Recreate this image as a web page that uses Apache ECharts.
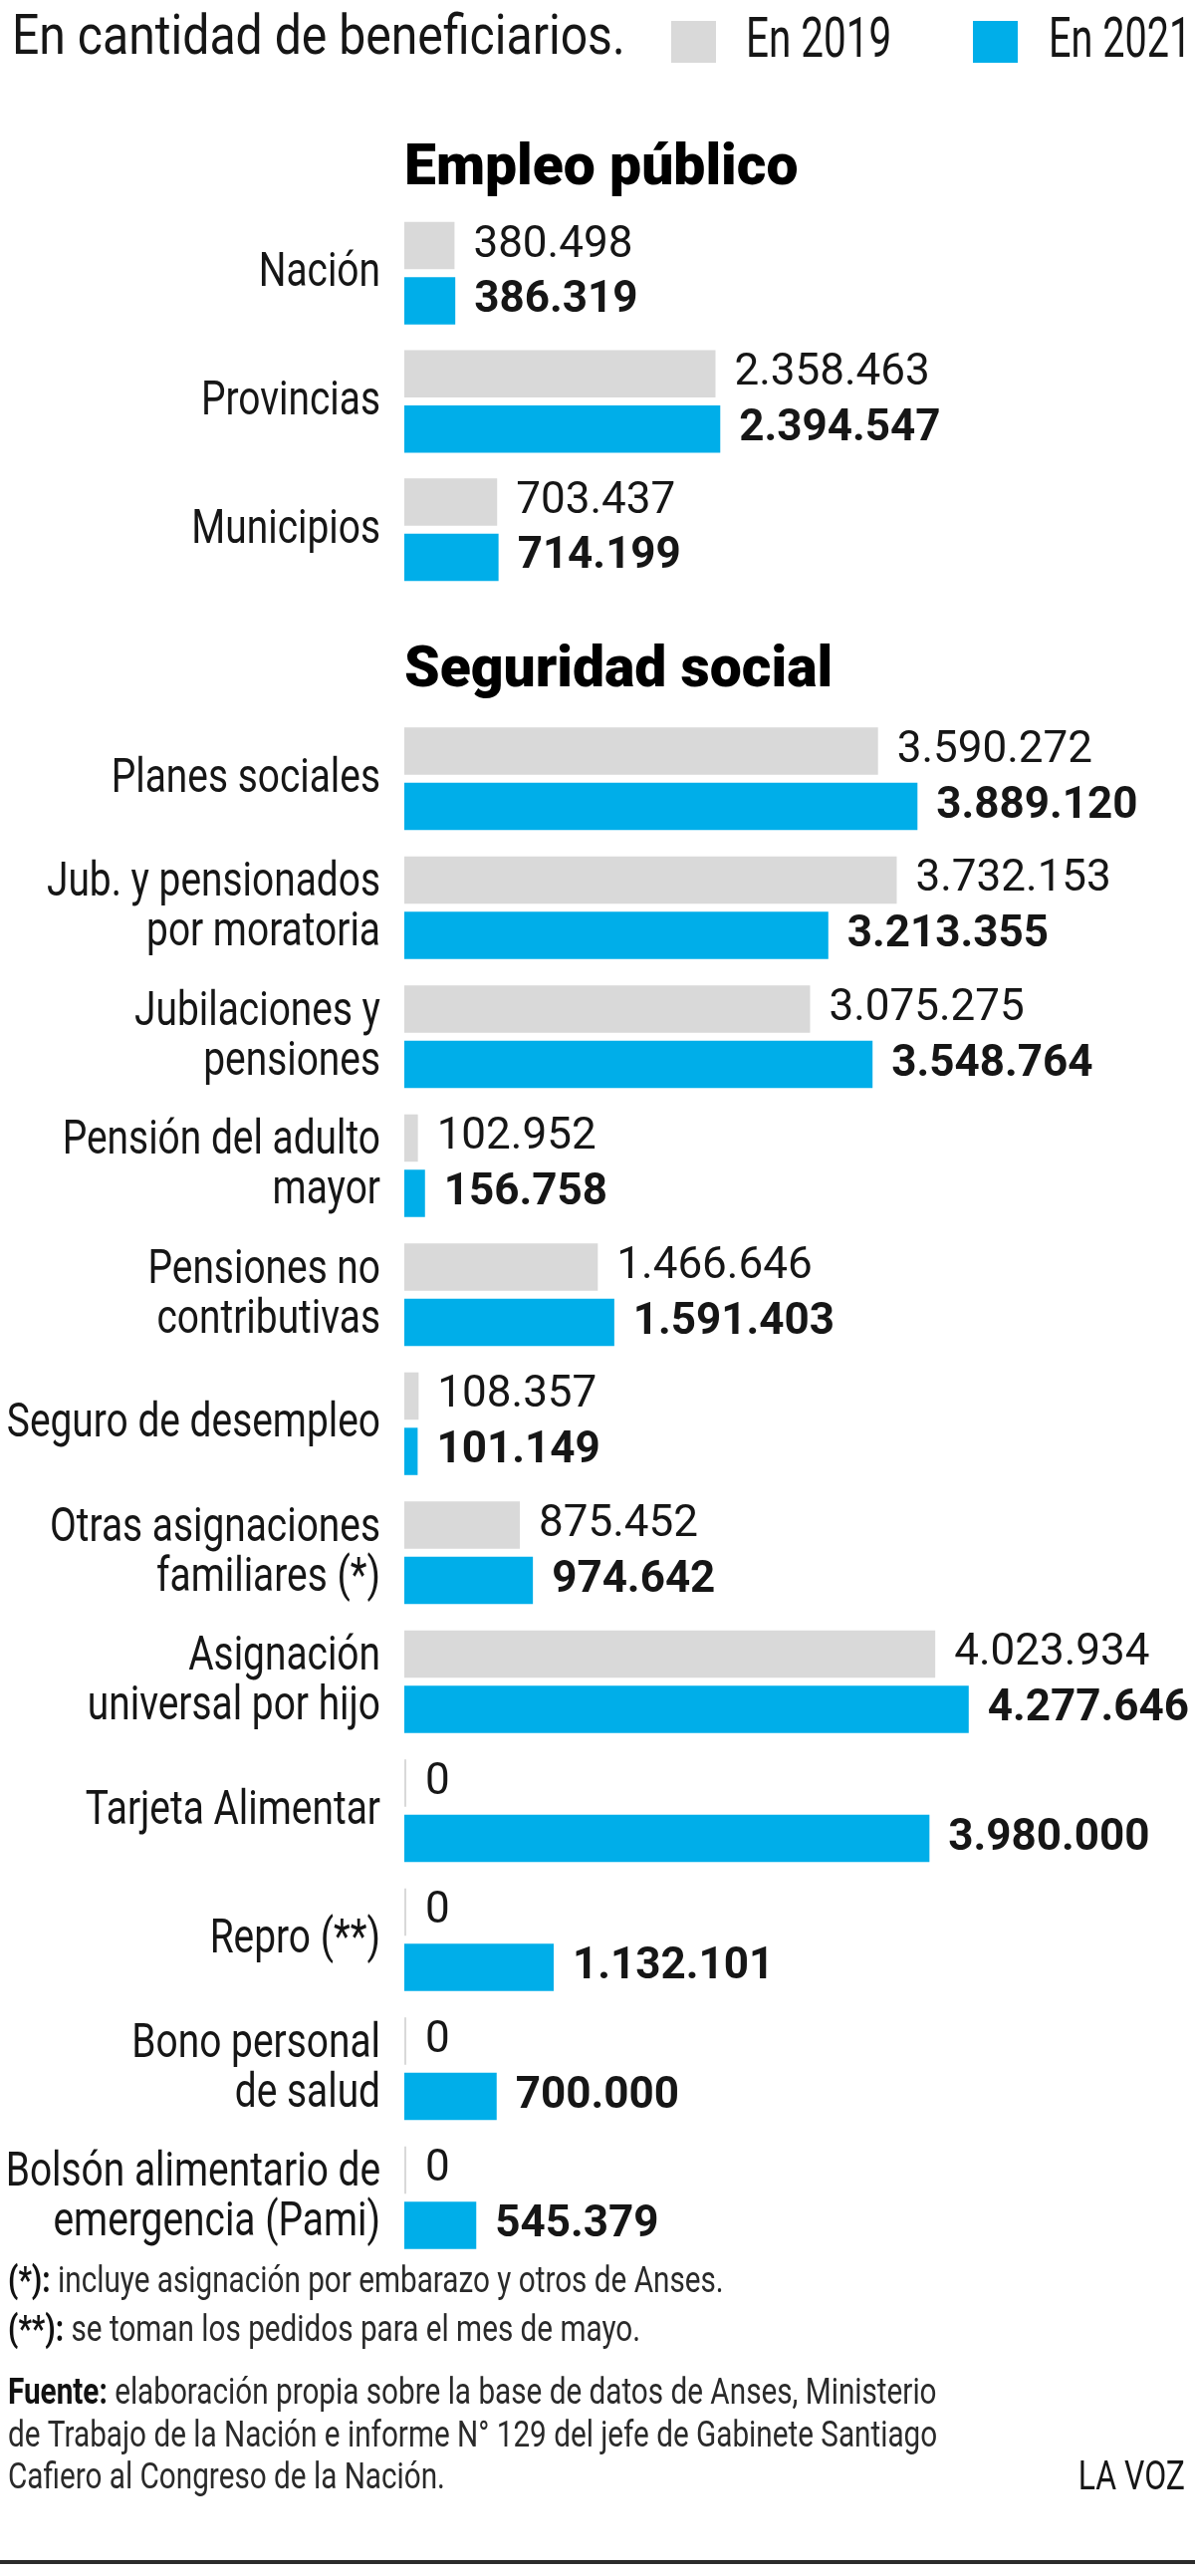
<!DOCTYPE html>
<html>
<head>
<meta charset="utf-8">
<script src="https://cdn.jsdelivr.net/npm/echarts@6/dist/echarts.min.js"></script>
<style>
html,body{margin:0;padding:0;background:#fff;}
#chart{width:1200px;height:2586px;}
</style>
</head>
<body>
<div id="chart"></div>
<script>
// ---- Data ----
const categoriesEmpleo = ['Nación', 'Provincias', 'Municipios'];
const empleo2019 = [380498, 2358463, 703437];
const empleo2021 = [386319, 2394547, 714199];

const categoriesSocial = [
  'Planes sociales',
  'Jub. y pensionados\npor moratoria',
  'Jubilaciones y\npensiones',
  'Pensión del adulto\nmayor',
  'Pensiones no\ncontributivas',
  'Seguro de desempleo',
  'Otras asignaciones\nfamiliares (*)',
  'Asignación\nuniversal por hijo',
  'Tarjeta Alimentar',
  'Repro (**)',
  'Bono personal\nde salud',
  'Bolsón alimentario de\nemergencia (Pami)'
];
const social2019 = [3590272, 3732153, 3075275, 102952, 1466646, 108357, 875452, 4023934, 0, 0, 0, 0];
const social2021 = [3889120, 3213355, 3548764, 156758, 1591403, 101149, 974642, 4277646, 3980000, 1132101, 700000, 545379];

const seriesNames = ['En 2019', 'En 2021'];
const sectionTitles = ['Empleo público', 'Seguridad social'];
const mainTitle = 'En cantidad de beneficiarios.';
const notes = [
  ['(*):', ' incluye asignación por embarazo y otros de Anses.'],
  ['(**):', ' se toman los pedidos para el mes de mayo.'],
  ['Fuente:', ' elaboración propia sobre la base de datos de Anses, Ministerio'],
  ['', 'de Trabajo de la Nación e informe N° 129 del jefe de Gabinete Santiago'],
  ['', 'Cafiero al Congreso de la Nación.']
];
const brand = 'LA VOZ';

// ---- Styles ----
const GRAY = '#d9d9d9';
const BLUE = '#00aee9';
const FONT = 'Roboto, "Liberation Sans", sans-serif';
const TXT = '#161616';

function fmt(v) {
  return String(v).replace(/\B(?=(\d{3})+(?!\d))/g, '.');
}

const chart = echarts.init(document.getElementById('chart'), null, {renderer: 'canvas'});

const gridLeft = 406;
const gridWidth = 662.5;

function yAxisFor(idx, cats) {
  return {
    type: 'category', gridIndex: idx, data: cats, inverse: true,
    axisLine: {show: false}, axisTick: {show: false}, splitLine: {show: false},
    axisLabel: {show: false}
  };
}
function xAxisFor(idx) {
  return {
    type: 'value', gridIndex: idx, min: 0, max: 5000000,
    show: false, splitLine: {show: false}
  };
}
function barSeries(name, idx, data, bold) {
  return {
    name: name, type: 'bar', xAxisIndex: idx, yAxisIndex: idx, data: data,
    barWidth: 47.5, barGap: '17%',
    barMinHeight: bold ? 0 : 2,
    itemStyle: {color: bold ? BLUE : GRAY},
    label: {
      show: true, position: 'right', distance: 19,
      fontFamily: FONT, fontSize: 44, color: TXT,
      fontWeight: bold ? 'bold' : 'normal',
      formatter: p => fmt(p.value)
    },
    emphasis: {disabled: true},
    animation: false
  };
}

const option = {
  backgroundColor: '#ffffff',
  animation: false,
  grid: [
    {left: gridLeft, width: gridWidth, top: 210, height: 386, outerBoundsMode: 'none', containLabel: false},
    {left: gridLeft, width: gridWidth, top: 717, height: 1554, outerBoundsMode: 'none', containLabel: false}
  ],
  xAxis: [xAxisFor(0), xAxisFor(1)],
  yAxis: [yAxisFor(0, categoriesEmpleo), yAxisFor(1, categoriesSocial)],
  series: [
    barSeries(seriesNames[0], 0, empleo2019, false),
    barSeries(seriesNames[1], 0, empleo2021, true),
    barSeries(seriesNames[0], 1, social2019, false),
    barSeries(seriesNames[1], 1, social2021, true)
  ]
};
chart.setOption(option);

// ---- Text layer (condensed via scaleX) ----
function txt(x, y, text, size, scaleX, extra) {
  return {
    type: 'text', x: x, y: y, scaleX: scaleX, silent: true,
    style: Object.assign({
      text: text, fontFamily: FONT, fontSize: size, fill: TXT,
      align: 'left', verticalAlign: 'middle'
    }, extra || {})
  };
}

const graphics = [];
// title + legend
graphics.push(txt(12, 40, mainTitle, 55, 0.875));
graphics.push({type: 'rect', x: 674, y: 21, shape: {width: 45, height: 42}, style: {fill: GRAY}, silent: true});
graphics.push(txt(749, 43, seriesNames[0], 55, 0.735));
graphics.push({type: 'rect', x: 977, y: 21, shape: {width: 45, height: 42}, style: {fill: BLUE}, silent: true});
graphics.push(txt(1053, 43, seriesNames[1], 55, 0.72));

// section titles
graphics.push(txt(406, 171, sectionTitles[0], 57, 1.0, {fontWeight: 900, fill: '#000'}));
graphics.push(txt(406, 675, sectionTitles[1], 57, 1.0, {fontWeight: 900, fill: '#000'}));

// category labels positioned by the category axes
[[0, categoriesEmpleo], [1, categoriesSocial]].forEach(function (pair) {
  pair[1].forEach(function (c, i) {
    const y = chart.convertToPixel({yAxisIndex: pair[0]}, i);
    graphics.push(txt(382, y + 1, c, 48, 0.81, {align: 'right', lineHeight: 50}));
  });
});

// footer
const noteY = [2292, 2341, 2404, 2447, 2489];
notes.forEach(function (n, i) {
  graphics.push({
    type: 'text', x: 8, y: noteY[i], scaleX: 0.825, silent: true,
    style: {
      text: (n[0] ? '{b|' + n[0] + '}' : '') + '{r|' + n[1] + '}',
      verticalAlign: 'middle',
      rich: {
        b: {fontFamily: FONT, fontSize: 36, fontWeight: 'bold', fill: '#111'},
        r: {fontFamily: FONT, fontSize: 36, fill: '#2a2a2a'}
      }
    }
  });
});
graphics.push(txt(1190, noteY[4], brand, 40, 0.8, {align: 'right'}));
graphics.push({type: 'rect', x: 0, y: 2570, shape: {width: 1200, height: 4}, style: {fill: '#2b2b2b'}, silent: true});

chart.setOption({graphic: graphics});
</script>
</body>
</html>
